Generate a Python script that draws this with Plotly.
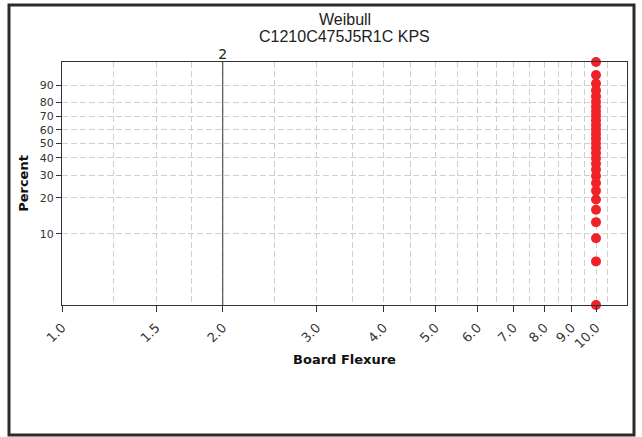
import math
import plotly.graph_objects as go

# ---- data ----
board_flexure = [10.0, 10.0, 10.0, 10.0, 10.0, 10.0, 10.0, 10.0, 10.0, 10.0,
                 10.0, 10.0, 10.0, 10.0, 10.0, 10.0, 10.0, 10.0, 10.0, 10.0,
                 10.0, 10.0, 10.0, 10.0, 10.0, 10.0, 10.0, 10.0, 10.0]
percent = [2.381, 5.782, 9.184, 12.585, 15.986, 19.388, 22.789, 26.190, 29.592, 32.993,
           36.395, 39.796, 43.197, 46.599, 50.000, 53.401, 56.803, 60.204, 63.605, 67.007,
           70.408, 73.810, 77.211, 80.612, 84.014, 87.415, 90.816, 94.218, 97.619]
x_tick_vals = [1.0, 1.5, 2.0, 3.0, 4.0, 5.0, 6.0, 7.0, 8.0, 9.0, 10.0]
x_tick_text = ["1.0", "1.5", "2.0", "3.0", "4.0", "5.0", "6.0", "7.0", "8.0", "9.0", "10.0"]
x_minor_vals = [1.25, 1.75, 2.5, 3.5, 4.5, 5.5, 6.5, 7.5, 8.5, 9.5, 10.5]
y_tick_pct = [10, 20, 30, 40, 50, 60, 70, 80, 90]
ref_line_x = [2.0, 2.0]
ref_line_label = "2"
title_lines = ["Weibull", "C1210C475J5R1C KPS"]


def weibull(p):
    return math.log(-math.log(1.0 - p / 100.0))


y_vals = [weibull(p) for p in percent]
y_min, y_max = min(y_vals), max(y_vals)

W, H = 642, 437
L, R, T, B = 62, 627, 62, 305
pw, ph = R - L, B - T


def px(xp):
    return (xp - L) / pw


def py(yp):
    return (B - yp) / ph


fig = go.Figure()

# reference vertical line at x=2
fig.add_trace(go.Scatter(
    x=ref_line_x, y=[y_min, y_max], mode="lines+text",
    line=dict(color="#333333", width=1),
    text=["", ref_line_label], textposition="top center",
    textfont=dict(family="DejaVu Sans", size=14, color="#222222"),
    cliponaxis=False, hoverinfo="skip", showlegend=False,
))

fig.add_trace(go.Scatter(
    x=board_flexure, y=y_vals, mode="markers",
    marker=dict(color="#ee2227", size=10),
    cliponaxis=False, showlegend=False,
    customdata=percent,
    hovertemplate="%{x}, %{customdata:.1f}%<extra></extra>",
))

grid = dict(showgrid=True, gridcolor="#cfcfcf", griddash="6px,3px", gridwidth=1)

fig.update_xaxes(
    type="log", range=[0, math.log10(11.43)],
    tickmode="array", tickvals=x_tick_vals, ticktext=x_tick_text,
    tickangle=-45, ticks="outside", ticklen=6, tickcolor="#333333",
    ticklabelstandoff=3,
    tickfont=dict(family="DejaVu Sans", size=13, color="#333333"),
    showline=True, linecolor="#333333", linewidth=1, mirror=True,
    zeroline=False,
    minor=dict(tickmode="array", tickvals=x_minor_vals, ticks="",
               showgrid=True, gridcolor="#cfcfcf", griddash="6px,3px"),
    title=dict(text="<b>Board Flexure</b>",
               font=dict(family="DejaVu Sans", size=13, color="#111111"),
               standoff=4),
    **grid,
)

fig.update_yaxes(
    range=[y_min, y_max],
    tickmode="array", tickvals=[weibull(p) for p in y_tick_pct],
    ticktext=[str(p) for p in y_tick_pct],
    ticks="outside", ticklen=5, tickcolor="#333333",
    tickfont=dict(family="DejaVu Sans", size=11, color="#333333"),
    showline=True, linecolor="#333333", linewidth=1, mirror=True,
    zeroline=False,
    title=dict(text="<b>Percent</b>",
               font=dict(family="DejaVu Sans", size=13, color="#111111"),
               standoff=8),
    **grid,
)

annotations = [
    dict(text=title_lines[0], x=0.5, y=py(20), xref="paper", yref="paper",
         showarrow=False, xanchor="center", yanchor="middle",
         font=dict(family="Liberation Sans", size=16, color="#222222")),
    dict(text=title_lines[1], x=0.5, y=py(37), xref="paper", yref="paper",
         showarrow=False, xanchor="center", yanchor="middle",
         font=dict(family="Liberation Sans", size=16, color="#222222")),
]

shapes = [
    dict(type="rect", xref="paper", yref="paper",
         x0=px(9), x1=px(634), y0=py(435), y1=py(5),
         line=dict(color="#2b2b2b", width=3), fillcolor="rgba(0,0,0,0)",
         layer="above"),
]

fig.update_layout(
    width=W, height=H,
    margin=dict(l=L, r=W - R, t=T, b=H - B, autoexpand=False),
    paper_bgcolor="white", plot_bgcolor="white",
    annotations=annotations, shapes=shapes,
    showlegend=False,
)

fig.write_html(
    "out.html",
    config={"displayModeBar": False},
    post_script="document.body.style.margin='0';document.body.style.overflow='hidden';",
)
